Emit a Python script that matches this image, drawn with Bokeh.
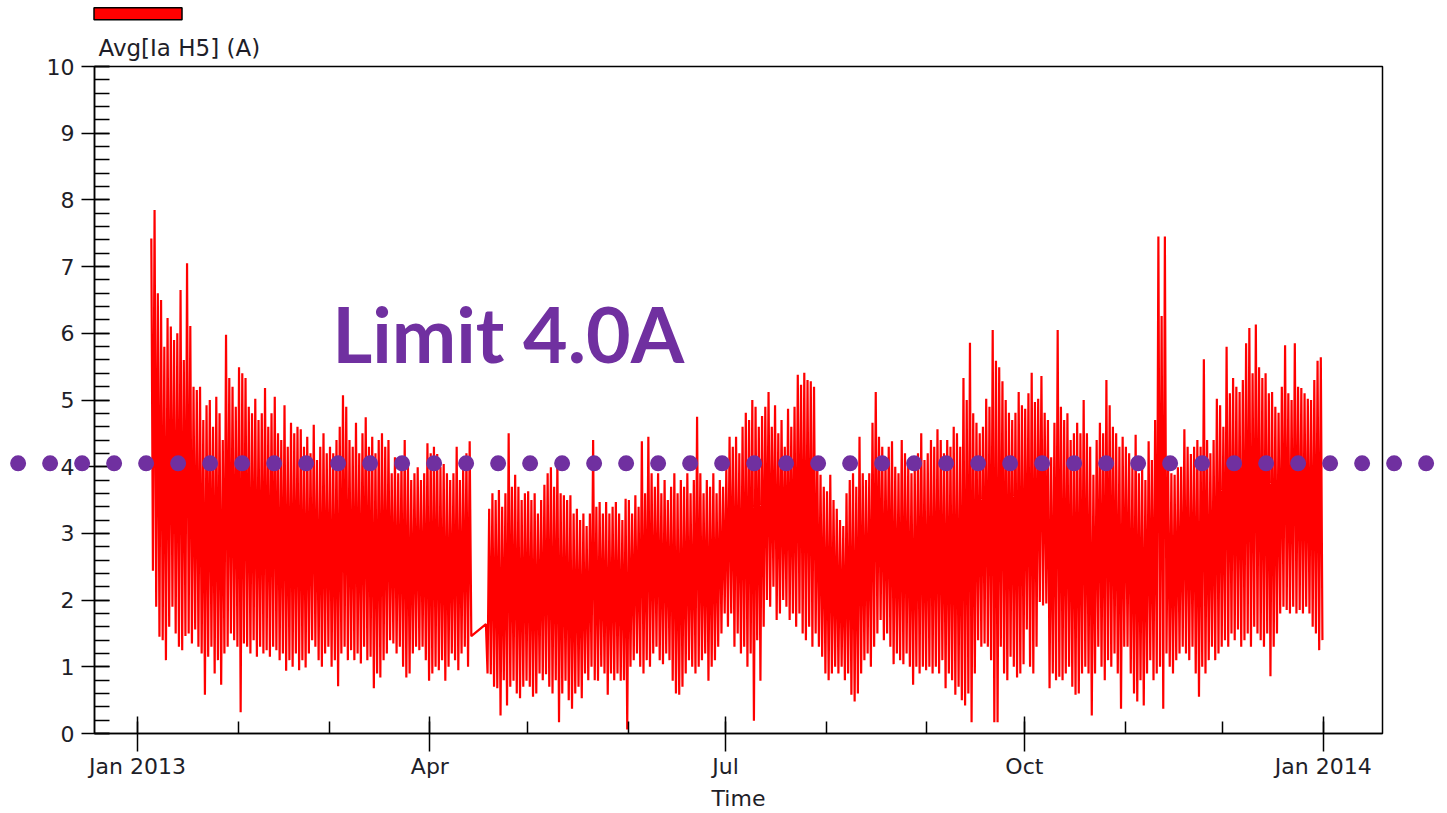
import numpy as np
from bokeh.plotting import figure
from bokeh.models import (ColumnDataSource, Range1d, FixedTicker, SingleIntervalTicker,
                          Label, Title)
from bokeh.embed import file_html
from bokeh.resources import INLINE

# ---------------- data (daily max / min) ----------------
series_name = "Avg[Ia H5] (A)"
limit_text = "Limit 4.0A"
limit_value = 4.05

jan_start = "2013-01-05"
hi_jan = [7.42, 7.85, 6.6, 6.5, 5.8, 6.23, 6.1, 5.9, 6.0, 6.65, 5.6, 7.05, 6.11, 5.2, 5.15, 5.2, 4.7,
          4.92, 5.0, 4.6, 5.05, 4.8, 4.4, 5.98, 5.33, 5.2, 4.9]
lo_jan = [2.44, 1.9, 1.45, 1.4, 1.10, 1.6, 1.9, 1.5, 1.3, 1.25, 1.46, 1.5, 1.35, 1.56, 1.3, 1.2, 0.58,
          1.15, 1.3, 0.9, 1.1, 0.73, 1.2, 1.3, 1.5, 1.4, 1.3]

feb_start = "2013-02-01"
hi_feb = [5.49, 5.4, 5.33, 4.9, 4.8, 5.02, 4.7, 4.8, 5.18, 4.6, 4.8, 5.05, 4.5, 4.4, 4.92, 4.3, 4.66,
          4.5, 4.6, 4.56, 4.3, 4.45, 4.2, 4.63, 4.1, 4.3, 4.5, 4.2]
lo_feb = [0.32, 1.35, 1.3, 1.2, 1.4, 1.15, 1.3, 1.2, 1.25, 1.15, 1.3, 1.25, 1.1, 1.2, 0.94, 1.1, 1.0,
          1.2, 0.95, 1.1, 0.99, 1.2, 1.4, 1.3, 1.1, 1.0, 1.2, 1.3]

mar_start = "2013-03-01"
hi_mar = [4.3, 4.2, 4.4, 4.6, 5.07, 4.9, 4.4, 4.3, 4.66, 4.2, 4.5, 4.74, 4.3, 4.45, 4.2, 4.4, 4.5,
          4.3, 4.4, 3.9, 4.14, 3.9, 4.1, 4.40, 4.0, 3.8, 3.9, 3.99, 3.8, 3.9, 4.35]
lo_mar = [1.0, 1.1, 0.71, 1.2, 1.3, 1.1, 1.25, 1.1, 1.2, 1.05, 1.3, 1.1, 1.15, 0.68, 0.9, 0.84, 1.1,
          1.2, 1.4, 1.35, 1.2, 1.3, 1.0, 0.84, 0.9, 1.2, 1.3, 1.25, 1.3, 1.1, 0.79]

apr1_start = "2013-04-01"
hi_apr1 = [4.2, 4.3, 4.19, 4.0, 4.04, 3.9, 3.8, 3.9, 4.30, 3.8, 3.99, 4.2, 4.38]
lo_apr1 = [0.9, 1.0, 0.95, 1.1, 0.79, 1.0, 1.2, 1.1, 0.95, 1.2, 1.3, 1.0, 1.46]

apr2_start = "2013-04-18"
hi_apr2 = [1.64, 3.37, 3.6, 3.5, 3.65, 3.4, 3.6, 4.50, 3.7, 3.88, 3.7, 3.5, 3.6]
lo_apr2 = [0.9, 0.89, 0.7, 0.68, 0.27, 0.8, 0.42, 0.7, 0.79, 0.6, 0.53, 0.7, 0.79]

may_start = "2013-05-01"
hi_may = [3.63, 3.5, 3.6, 3.3, 3.5, 3.73, 3.9, 3.99, 3.7, 4.09, 3.6, 3.57, 3.5, 3.57, 3.3, 3.37,
          3.2, 3.3, 3.11, 3.3, 4.40, 3.4, 3.47, 3.3, 3.47, 3.3, 3.4, 3.47, 3.3, 3.2, 3.52]
lo_may = [0.7, 0.55, 0.6, 0.9, 0.8, 0.89, 0.7, 0.6, 0.8, 0.17, 0.6, 0.79, 0.5, 0.37, 0.6, 0.7,
          0.53, 0.9, 0.8, 1.0, 0.8, 0.79, 1.0, 0.9, 0.58, 0.9, 0.8, 0.9, 0.79, 0.8, 0.06]

jun_start = "2013-06-01"
hi_jun = [3.5, 3.3, 3.57, 3.4, 4.38, 3.6, 4.45, 3.9, 3.7, 3.9, 3.6, 3.8, 3.5, 3.7, 3.9, 3.6, 3.8,
          3.7, 3.9, 3.6, 3.8, 4.75, 3.9, 3.6, 3.8, 3.7, 3.9, 3.6, 3.8, 3.7]
lo_jun = [1.0, 1.1, 1.2, 1.0, 0.9, 1.1, 1.0, 1.2, 1.3, 1.1, 1.04, 1.2, 1.1, 0.79, 0.6, 0.58, 0.7,
          0.9, 1.1, 1.0, 0.9, 1.0, 1.1, 1.2, 0.79, 1.0, 1.1, 1.3, 1.5, 1.8]

jul_start = "2013-07-01"
hi_jul = [4.0, 4.45, 4.3, 4.45, 4.2, 4.6, 4.81, 4.7, 5.0, 4.9, 4.6, 4.76, 4.9, 5.12, 4.6, 4.92,
          4.5, 4.7, 4.30, 4.87, 4.6, 4.9, 5.38, 5.23, 5.41, 5.3, 5.28, 5.2, 4.14, 3.88, 3.7]
lo_jul = [1.6, 1.8, 1.3, 1.5, 1.2, 1.3, 1.0, 1.2, 0.19, 1.4, 0.79, 1.6, 2.0, 1.9, 2.2, 1.7, 1.8,
          2.0, 1.9, 1.7, 1.8, 1.6, 1.8, 1.5, 1.4, 1.6, 1.3, 1.5, 1.3, 1.15, 0.9]

aug_start = "2013-08-01"
hi_aug = [3.63, 3.88, 3.5, 3.37, 3.2, 3.11, 3.6, 3.8, 3.9, 3.7, 4.45, 3.9, 3.8, 3.9, 4.66, 5.12,
          4.45, 4.3, 4.1, 4.30, 4.38, 4.0, 3.9, 4.40, 4.2, 4.04, 3.9, 3.99, 4.2, 4.50, 4.1]
lo_aug = [0.8, 0.9, 1.0, 0.9, 1.0, 0.8, 0.9, 0.58, 0.48, 0.6, 0.9, 1.1, 1.2, 1.0, 1.3, 1.5, 1.7,
          1.4, 1.5, 1.3, 1.04, 1.2, 1.1, 1.04, 1.2, 1.0, 0.73, 1.0, 0.9, 1.0, 0.95]

sep_start = "2013-09-01"
hi_sep = [4.2, 4.4, 4.3, 4.56, 4.4, 4.2, 4.4, 4.3, 4.6, 4.5, 4.3, 5.33, 5.0, 5.86, 4.8, 4.66, 4.5,
          4.6, 5.02, 4.9, 6.05, 5.59, 5.49, 5.28, 5.0, 4.81, 4.7, 4.81, 5.12, 4.92]
lo_sep = [1.0, 0.9, 1.0, 0.9, 1.1, 0.68, 0.9, 0.8, 0.58, 0.7, 0.5, 0.42, 0.6, 0.17, 0.9, 1.4, 1.3,
          1.35, 1.3, 1.1, 0.17, 0.17, 1.3, 0.9, 0.8, 1.15, 1.0, 0.84, 0.9, 1.04]

oct_start = "2013-10-01"
hi_oct = [4.87, 5.1, 5.41, 4.97, 5.02, 5.36, 4.81, 4.7, 4.14, 4.66, 6.05, 4.9, 4.7, 4.8, 4.4, 4.5,
          4.66, 4.5, 5.0, 4.5, 4.3, 3.88, 4.4, 4.66, 4.5, 5.30, 4.92, 4.6, 4.5, 4.3, 4.45]
lo_oct = [1.56, 1.0, 0.9, 1.3, 1.97, 1.92, 1.95, 0.68, 0.9, 0.8, 0.85, 0.8, 0.9, 1.0, 0.7, 0.58,
          0.6, 0.9, 1.0, 0.9, 0.27, 0.9, 1.3, 1.0, 0.8, 1.1, 1.0, 1.2, 0.9, 0.37, 1.3]

nov_start = "2013-11-01"
hi_nov = [4.30, 4.2, 4.0, 4.48, 3.9, 3.99, 3.8, 4.38, 4.1, 4.7, 7.45, 6.26, 7.45, 3.99, 3.9, 3.88,
          3.99, 4.0, 4.56, 4.3, 4.19, 4.3, 4.4, 4.3, 5.61, 4.4, 4.2, 4.4, 5.02, 4.92]
lo_nov = [1.3, 0.9, 0.6, 0.48, 0.8, 0.42, 0.9, 1.1, 0.8, 0.9, 1.0, 0.37, 1.2, 1.0, 0.9, 1.1, 1.2,
          1.3, 1.2, 1.1, 1.3, 0.9, 0.55, 1.0, 0.9, 1.1, 1.3, 1.1, 1.2, 1.3]

dec_start = "2013-12-01"
hi_dec = [4.6, 5.80, 5.1, 5.33, 5.2, 5.12, 5.3, 5.85, 6.08, 5.4, 6.13, 5.49, 5.33, 5.4, 5.1, 5.12,
          4.9, 4.81, 5.2, 5.82, 5.1, 5.0, 5.85, 5.2, 5.18, 5.1, 5.02, 5.0, 5.3, 5.59, 5.64]
lo_dec = [1.4, 1.3, 1.5, 1.4, 1.56, 1.3, 1.4, 1.5, 1.3, 1.6, 1.5, 1.4, 1.3, 1.5, 0.86, 1.3, 1.5,
          1.8, 1.9, 1.85, 1.8, 1.9, 1.8, 1.85, 1.8, 1.9, 1.8, 1.6, 1.5, 1.25, 1.4]

blocks = [(jan_start, hi_jan, lo_jan), (feb_start, hi_feb, lo_feb), (mar_start, hi_mar, lo_mar),
          (apr1_start, hi_apr1, lo_apr1), (apr2_start, hi_apr2, lo_apr2), (may_start, hi_may, lo_may),
          (jun_start, hi_jun, lo_jun), (jul_start, hi_jul, lo_jul), (aug_start, hi_aug, lo_aug),
          (sep_start, hi_sep, lo_sep), (oct_start, hi_oct, lo_oct), (nov_start, hi_nov, lo_nov),
          (dec_start, hi_dec, lo_dec)]

major_tick_dates = ["2013-01-01", "2013-04-01", "2013-07-01", "2013-10-01", "2014-01-01"]
major_tick_labels = ["Jan 2013", "Apr", "Jul", "Oct", "Jan 2014"]
minor_tick_dates = ["2013-01-01", "2013-02-01", "2013-03-01", "2013-04-01", "2013-05-01", "2013-06-01",
                    "2013-07-01", "2013-08-01", "2013-09-01", "2013-10-01", "2013-11-01", "2013-12-01",
                    "2014-01-01"]

# ---------------- build the series ----------------
xs, ys = [], []
for start, his, los in blocks:
    base = np.datetime64(start, "h")
    for i, (h, l) in enumerate(zip(his, los)):
        day = base + np.timedelta64(24 * i, "h")
        xs.append(day + np.timedelta64(6, "h"))
        ys.append(h)
        xs.append(day + np.timedelta64(18, "h"))
        ys.append(l)
src = ColumnDataSource(data=dict(x=np.array(xs, dtype="datetime64[ms]"), y=ys))


def ms(s):
    return int(np.datetime64(s, "ms").astype("int64"))


FONT = "DejaVu Sans"
TXT = "#1e1e28"

p = figure(width=1447, height=813, x_axis_type="datetime", output_backend="svg",
           toolbar_location=None, title_location=None,
           x_range=Range1d(start=ms("2012-12-18T18:14"), end=ms("2014-01-19T05:45")),
           y_range=Range1d(0, 10),
           min_border_left=94, min_border_right=65, min_border_top=66, min_border_bottom=79)
p.background_fill_color = "white"
p.border_fill_color = "white"
p.outline_line_color = "black"
p.outline_line_width = 1.5
p.xgrid.visible = False
p.ygrid.visible = False

r_data = p.line(x="x", y="y", source=src, line_color="#ff0000", line_width=2.2)

# limit line (round dots), drawn across the whole width like the reference
p.line(x=[ms("2012-11-25T06:00"), ms("2014-02-12T00:00")], y=[limit_value, limit_value],
       line_color="#7030A0", line_width=16, line_dash="0 32", line_cap="round", level="overlay")

p.add_layout(Label(x=ms("2013-03-01T22:00"), y=6.01, text=limit_text, text_font="Lato",
                   text_font_style="bold", text_font_size="77px", text_color="#7030A0",
                   text_baseline="alphabetic"))

# axes
xa = p.xaxis[0]
xa.ticker = FixedTicker(ticks=[ms(d) for d in major_tick_dates],
                        minor_ticks=[ms(d) for d in minor_tick_dates])
xa.major_label_overrides = {ms(d): lab for d, lab in zip(major_tick_dates, major_tick_labels)}
xa.axis_label = "Time"
xa.major_tick_in = 17
xa.major_tick_out = 18
xa.minor_tick_in = 12
xa.minor_tick_out = 0
xa.major_label_standoff = 2
xa.axis_label_standoff = 4

ya = p.yaxis[0]
ya.ticker = SingleIntervalTicker(interval=1, num_minor_ticks=5)
ya.major_tick_in = 15
ya.major_tick_out = 13
ya.minor_tick_in = 15
ya.minor_tick_out = 0
ya.major_label_standoff = 7

for ax in (xa, ya):
    ax.axis_line_color = "black"
    ax.axis_line_width = 1.5
    ax.major_tick_line_color = "black"
    ax.major_tick_line_width = 1.5
    ax.minor_tick_line_color = "black"
    ax.minor_tick_line_width = 1.5
    ax.major_label_text_font = FONT
    ax.major_label_text_font_size = "22px"
    ax.major_label_text_color = TXT
    ax.axis_label_text_font = FONT
    ax.axis_label_text_font_size = "22px"
    ax.axis_label_text_font_style = "normal"
    ax.axis_label_text_color = TXT

# legend: swatch above the series name
p.add_layout(Title(text=series_name, align="left", offset=4, standoff=11, text_font=FONT,
                   text_font_size="23px", text_font_style="normal", text_color=TXT), "above")
p.rect(x=[ms("2013-01-01T03:40")], y=[10.79], width=88, height=12, width_units="screen",
       height_units="screen", fill_color="#ff0000", line_color="black", line_width=1.5,
       level="overlay")

open("out.html", "w").write(file_html(p, INLINE))
